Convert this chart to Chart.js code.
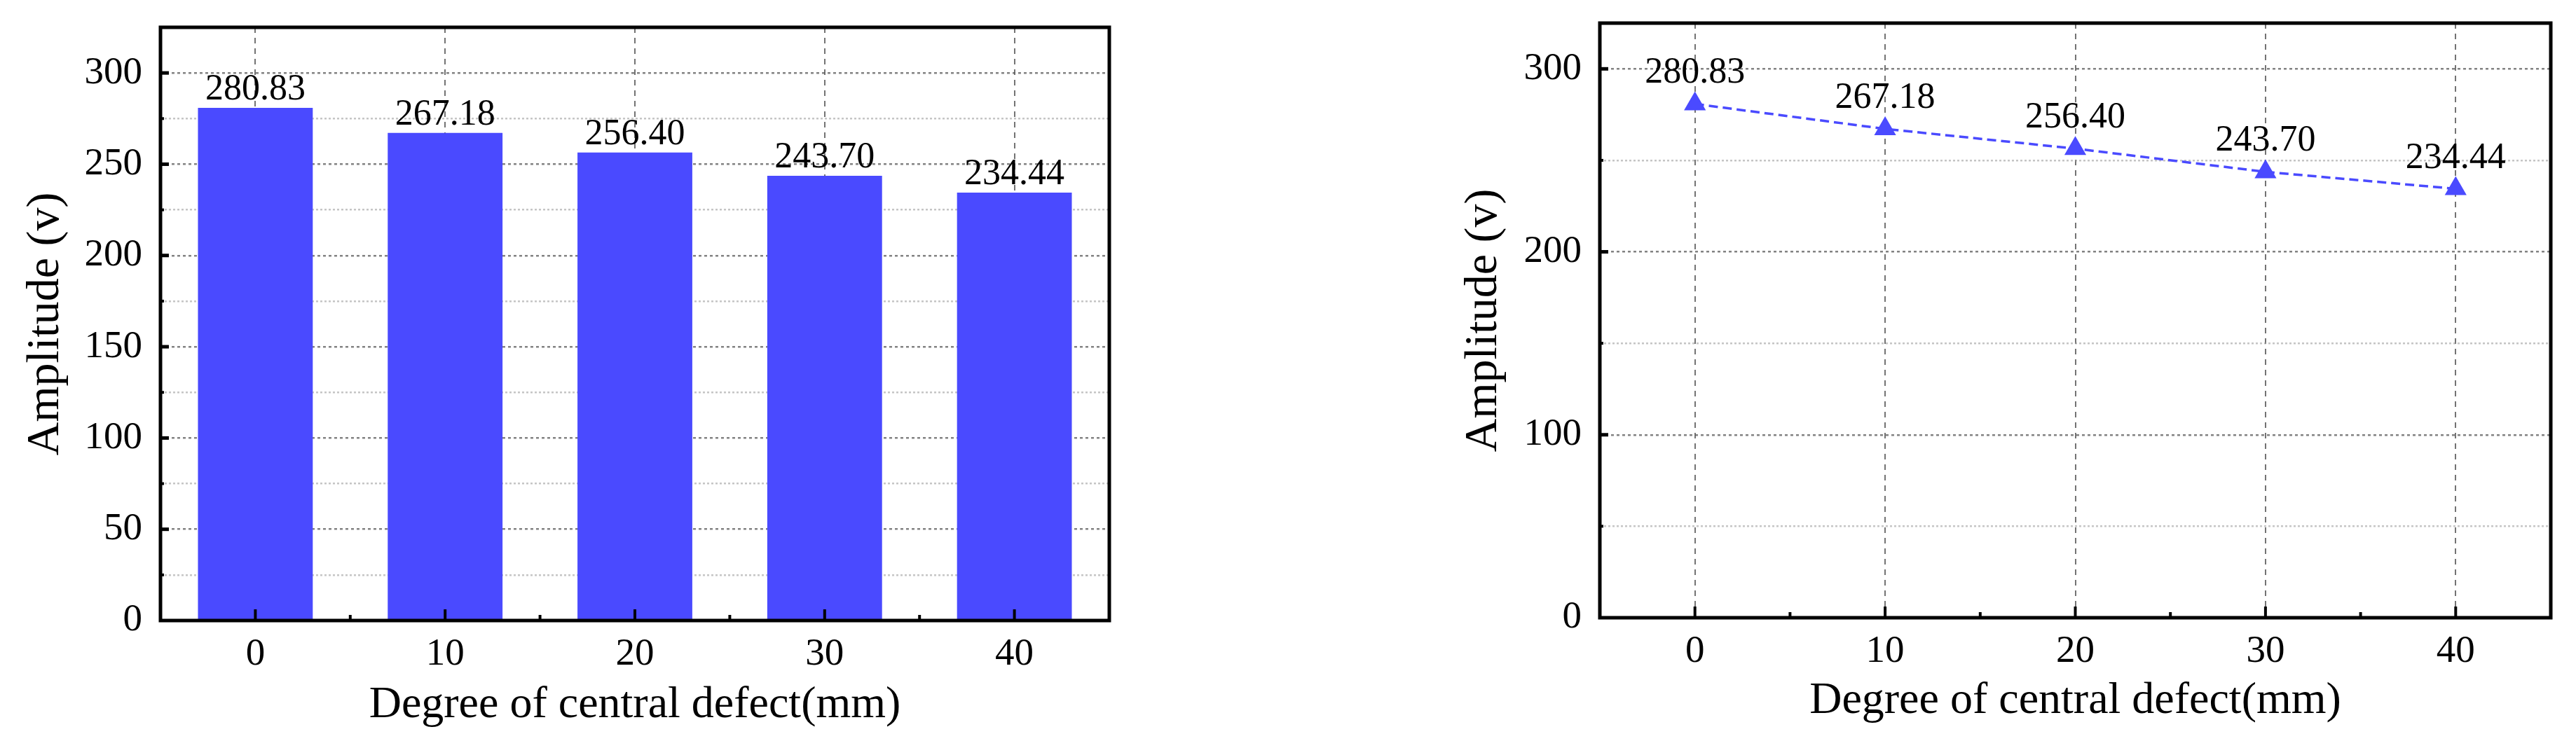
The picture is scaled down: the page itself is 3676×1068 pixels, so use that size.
<!DOCTYPE html>
<html>
<head>
<meta charset="utf-8">
<script src="https://cdn.jsdelivr.net/npm/chart.js@4/dist/chart.umd.min.js"></script>
<style>
  html, body { margin: 0; padding: 0; background: #fff; }
  body { width: 3676px; height: 1068px; position: relative; overflow: hidden; }
  canvas { position: absolute; top: 0; }
  #barChart { left: 0; }
  #lineChart { left: 1900px; }
</style>
</head>
<body>
<canvas id="barChart" width="1750" height="1068"></canvas>
<canvas id="lineChart" width="1776" height="1068"></canvas>
<script>
// data
const defects = ["0", "10", "20", "30", "40"];
const amplitudes = [280.83, 267.18, 256.40, 243.70, 234.44];
const ampLabels = ["280.83", "267.18", "256.40", "243.70", "234.44"];
const barYTicks = [0, 50, 100, 150, 200, 250, 300];
const lineYTicks = [0, 100, 200, 300];
const yMax = 325;

const SERIF = "'Liberation Serif', 'Times New Roman', serif";
const BLUE = "#4a4aff";
Chart.defaults.font.family = SERIF;
Chart.defaults.color = "#000";

// frame, inward ticks, value labels
function axesPlugin(majors, labelGap) {
  return {
    id: "axesDeco",
    afterDraw(chart) {
      const { ctx, chartArea: a, scales: { x, y } } = chart;
      ctx.save();
      ctx.strokeStyle = "#000";
      ctx.lineCap = "butt";
      // y ticks
      y.ticks.forEach((t) => {
        if (t.value >= yMax || t.value <= 0) return;
        const py = y.getPixelForValue(t.value);
        const major = majors.includes(t.value);
        ctx.lineWidth = major ? 5 : 4;
        ctx.beginPath();
        ctx.moveTo(a.left, py);
        ctx.lineTo(a.left + (major ? 12 : 5), py);
        ctx.stroke();
      });
      // x ticks
      ctx.lineWidth = 4;
      defects.forEach((d, i) => {
        let px = x.getPixelForValue(i);
        ctx.beginPath();
        ctx.moveTo(px, a.bottom);
        ctx.lineTo(px, a.bottom - 16);
        ctx.stroke();
        if (i < defects.length - 1) {
          px = x.getPixelForValue(i + 0.5);
          ctx.beginPath();
          ctx.moveTo(px, a.bottom);
          ctx.lineTo(px, a.bottom - 8);
          ctx.stroke();
        }
      });
      // frame
      ctx.lineWidth = 5;
      ctx.strokeRect(a.left, a.top, a.right - a.left, a.bottom - a.top);

      // value labels
      ctx.font = "52px " + SERIF;
      ctx.fillStyle = "#000";
      ctx.textAlign = "center";
      ctx.textBaseline = "alphabetic";
      chart.getDatasetMeta(0).data.forEach((el, i) => {
        ctx.fillText(ampLabels[i], el.x, el.y - labelGap);
      });
      ctx.restore();
    }
  };
}

function yScale(step, majors, width, titlePad) {
  return {
    min: 0,
    max: yMax,
    z: 1,
    ticks: {
      stepSize: step,
      autoSkip: false,
      padding: 26,
      font: { size: 55 },
      callback: (v) => (majors.includes(v) ? String(v) : "")
    },
    grid: {
      drawTicks: false,
      lineWidth: 2.5,
      color: (c) => (c.tick && majors.includes(c.tick.value) ? "rgba(90,90,90,0.75)" : "rgba(150,150,150,0.55)")
    },
    border: {
      display: false,
      dash: (c) => (c.tick && majors.includes(c.tick.value) ? [4, 4] : [3, 3])
    },
    title: {
      display: true,
      text: "Amplitude (v)",
      font: { size: 66 },
      padding: { top: titlePad, bottom: 0 }
    },
    afterFit: (s) => {
      s.width = width;
      // keep the plot top where the layout padding puts it
      s.paddingTop = 0;
      s.paddingBottom = 0;
    }
  };
}

function xScale(height, titlePad) {
  return {
    type: "category",
    offset: true,
    z: 1,
    ticks: { padding: 16, font: { size: 55 } },
    grid: { offset: false, drawTicks: false, lineWidth: 2, color: "rgba(80,80,80,0.8)" },
    border: { display: false, dash: [8, 7] },
    title: {
      display: true,
      text: "Degree of central defect(mm)",
      font: { size: 64 },
      padding: { top: 0, bottom: titlePad }
    },
    afterFit: (s) => { s.height = height; }
  };
}

new Chart(document.getElementById("barChart"), {
  type: "bar",
  data: {
    labels: defects,
    datasets: [{
      data: amplitudes,
      backgroundColor: BLUE,
      borderWidth: 0,
      categoryPercentage: 1,
      barPercentage: 0.605
    }]
  },
  options: {
    responsive: false,
    animation: false,
    layout: { padding: { left: 0, right: 167, top: 39, bottom: 0 } },
    plugins: { legend: { display: false }, tooltip: { enabled: false } },
    scales: {
      x: xScale(182, 22),
      y: yScale(25, barYTicks, 229, 26)
    }
  },
  plugins: [axesPlugin(barYTicks, 12)]
});

new Chart(document.getElementById("lineChart"), {
  type: "line",
  data: {
    labels: defects,
    datasets: [{
      data: amplitudes,
      borderColor: BLUE,
      borderWidth: 3.5,
      borderDash: [13, 7],
      fill: false,
      tension: 0,
      pointStyle: "triangle",
      pointRadius: 18,
      pointBackgroundColor: BLUE,
      pointBorderWidth: 0
    }]
  },
  options: {
    responsive: false,
    animation: false,
    layout: { padding: { left: 0, right: 36, top: 33, bottom: 0 } },
    plugins: { legend: { display: false }, tooltip: { enabled: false } },
    scales: {
      x: xScale(186, 28),
      y: yScale(50, lineYTicks, 383, 178)
    }
  },
  plugins: [axesPlugin(lineYTicks, 30)]
});
</script>
</body>
</html>
